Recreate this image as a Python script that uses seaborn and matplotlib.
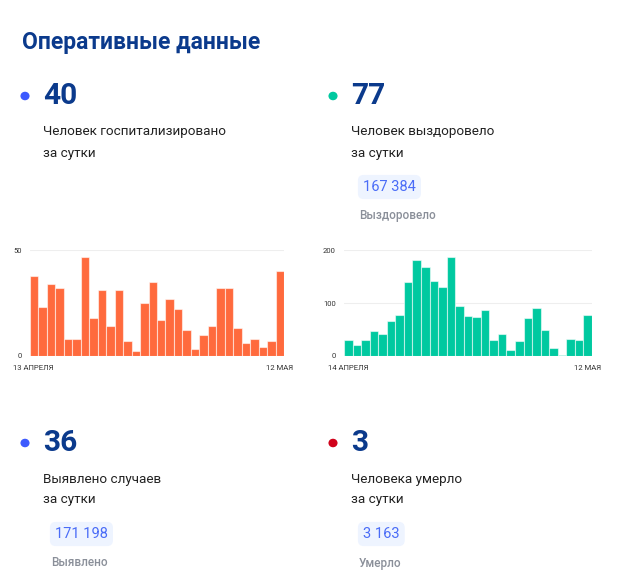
import matplotlib
matplotlib.use("Agg")
import matplotlib.pyplot as plt
import seaborn as sns
import pandas as pd

# daily hospitalized, 13 April - 12 May
hospitalized = [38, 23, 34, 32, 8, 8, 47, 18, 31, 14, 31, 7, 2, 25, 35, 17,
                27, 22, 12, 3, 10, 14, 32, 32, 13, 6, 8, 4, 7, 40]
# daily recovered, 14 April - 12 May
recovered = [30, 21, 29, 46, 41, 66, 78, 139, 181, 168, 142, 130, 187, 95,
             76, 73, 87, 30, 42, 11, 27, 71, 90, 49, 15, 1, 32, 30, 77]

hosp_labels = ["13 АПРЕЛЯ", "12 МАЯ"]
rec_labels = ["14 АПРЕЛЯ", "12 МАЯ"]

today = ["40", "77", "36", "3"]
captions = ["Человек госпитализировано", "Человек выздоровело",
            "Выявлено случаев", "Человека умерло"]
totals = [None, "167 384", "171 198", "3 163"]
total_names = [None, "Выздоровело", "Выявлено", "Умерло"]
dot_colors = ["#3d5afe", "#00c9a0", "#3d5afe", "#d0021b"]

W, H = 621, 575
sns.set_theme(style="white")
plt.rcParams["font.family"] = ["Roboto", "DejaVu Sans"]

fig = plt.figure(figsize=(W / 100, H / 100), dpi=100)
fig.patch.set_facecolor("white")


def fx(x):
    return x / W


def fy(y):
    return 1 - y / H


def txt(x, y, s, **kw):
    kw.setdefault("va", "center")
    kw.setdefault("ha", "left")
    fig.text(fx(x), fy(y), s, **kw)


NAVY = "#0b3a8c"
txt(22, 42, "Оперативные данные", fontsize=16.5, fontweight="bold", color=NAVY)

# blocks: (dot x, text x, number y)
blocks = [(25, 43, 96), (333, 351, 96), (25, 43, 443), (333, 351, 443)]
for i, (dx, tx, ny) in enumerate(blocks):
    fig.patches.append(plt.Circle((fx(dx), fy(ny)), 0.0062, color=dot_colors[i],
                                  transform=fig.transFigure, figure=fig))
    txt(tx, ny, today[i], fontsize=21.5, fontweight="bold", color=NAVY)
    txt(tx, ny + 36, captions[i], fontsize=9.7, color="#222222")
    txt(tx, ny + 57, "за сутки", fontsize=9.7, color="#222222")
    if totals[i]:
        txt(tx + 12, ny + 91, totals[i], fontsize=10.5, color="#4a6cf7",
            bbox=dict(boxstyle="round,pad=0.35,rounding_size=0.4", fc="#eef4ff", ec="none"))
        txt(tx + 8, ny + 120, total_names[i], fontsize=8.5, fontweight="medium",
            color="#8a8f99")


def bar_panel(x0, x1, values, color, ymax, ticks, labels, lab_x0, lab_x1):
    ax = fig.add_axes([fx(x0), fy(355.7), fx(x1 - x0), (355.7 - 250.3) / H])
    df = pd.DataFrame({"day": range(len(values)), "value": values})
    sns.barplot(data=df, x="day", y="value", color=color, saturation=1,
                width=1, edgecolor="#ffffff", linewidth=0.8, ax=ax)
    for p in ax.patches:
        p.set_edgecolor((1, 1, 1, 0.55))
    ax.set_xlim(-0.5, len(values) - 0.5)
    ax.set_ylim(0, ymax)
    ax.set_yticks(ticks)
    ax.set_yticklabels([str(t) for t in ticks])
    ax.tick_params(axis="y", length=0, pad=6, labelsize=5.5, labelcolor="#333333")
    ax.set_xticks([])
    ax.set_xlabel("")
    ax.set_ylabel("")
    for t in ticks:
        ax.axhline(t, color="#eeeeee", lw=0.8, zorder=0)
    sns.despine(ax=ax, left=True, bottom=True)
    ax.set_facecolor("none")
    txt(lab_x0, 368, labels[0], fontsize=5.6, color="#333333")
    txt(lab_x1, 368, labels[1], fontsize=5.6, color="#333333", ha="right")


bar_panel(30, 284, hospitalized, "#ff6a3d", 50, [0, 50], hosp_labels, 13, 293)
bar_panel(344, 592, recovered, "#00c9a0", 200, [0, 100, 200], rec_labels, 328, 601)

fig.savefig("out.png", dpi=100)
